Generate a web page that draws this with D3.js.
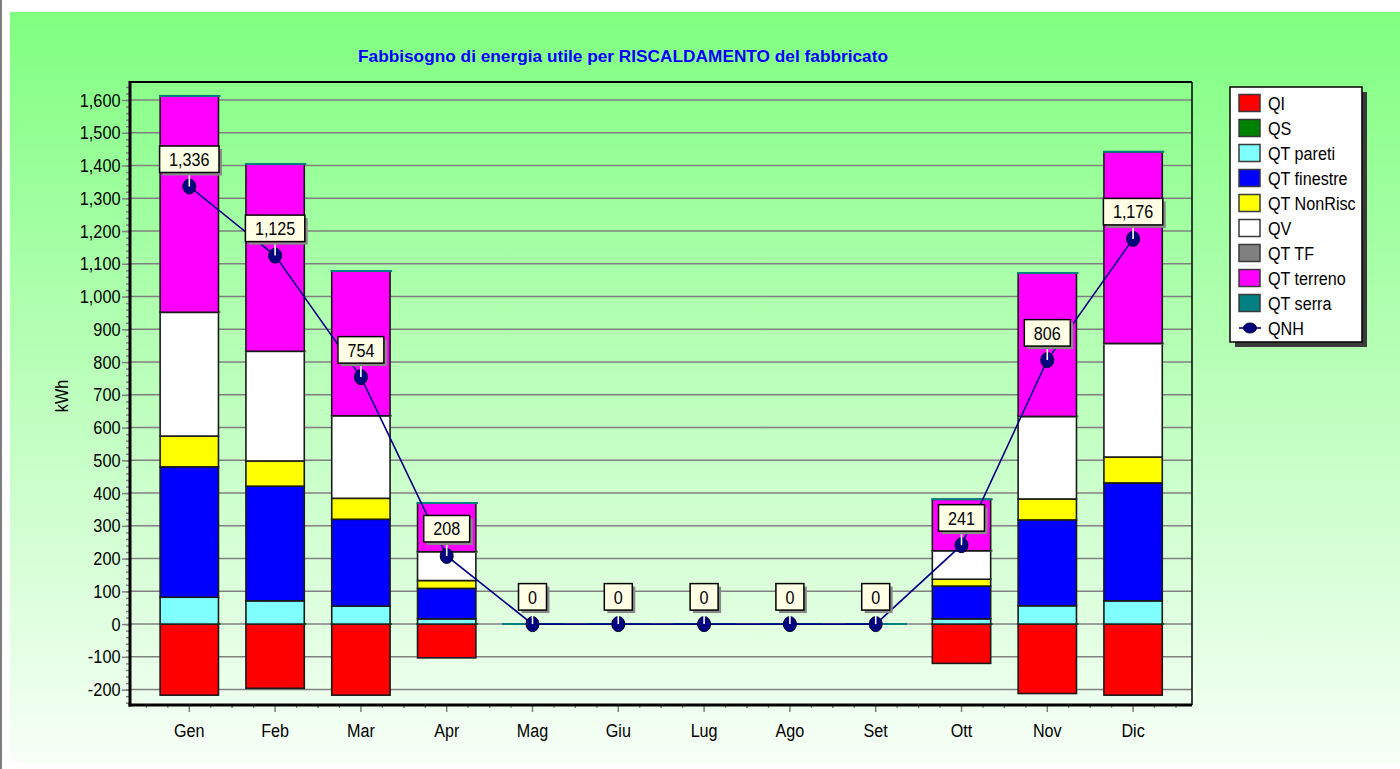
<!DOCTYPE html>
<html>
<head>
<meta charset="utf-8">
<script src="https://cdn.jsdelivr.net/npm/d3@7"></script>
<style>
  html, body { margin: 0; padding: 0; background: #fff; }
  svg { display: block; }
  text { font-family: "Liberation Sans", Arial, sans-serif; }
</style>
</head>
<body>
<svg id="chart" width="1400" height="769"></svg>
<script>
// Monthly heating energy balance of the building (kWh)
const months = ["Gen","Feb","Mar","Apr","Mag","Giu","Lug","Ago","Set","Ott","Nov","Dic"];
const seriesNames = ["QI","QS","QT pareti","QT finestre","QT NonRisc","QV","QT TF","QT terreno","QT serra"];
const seriesColors = ["#ff0000","#008000","#80ffff","#0000ff","#ffff00","#ffffff","#808080","#ff00ff","#008080"];

const qI        = [-217,-196,-217,-103,0,0,0,0,0,-120,-212,-217];
const qS        = [0,0,0,0,0,0,0,0,0,0,0,0];
const qtPareti  = [82,71,55,16,0,0,0,0,0,16,56,71];
const qtFinestre= [398,350,265,93,0,0,0,0,0,100,262,360];
const qtNonRisc = [94,77,64,24,0,0,0,0,0,21,64,79];
const qV        = [378,335,252,88,0,0,0,0,0,87,252,347];
const qtTF      = [0,0,0,0,0,0,0,0,0,0,0,0];
const qtTerreno = [660,572,442,149,0,0,0,0,0,157,438,585];
const qtSerra   = [0,0,0,0,0,0,0,0,0,0,0,0];
const qNH       = [1336,1125,754,208,0,0,0,0,0,241,806,1176];

const yTickValues = [-200,-100,0,100,200,300,400,500,600,700,800,900,1000,1100,1200,1300,1400,1500,1600];
const titleText = "Fabbisogno di energia utile per RISCALDAMENTO del fabbricato";
const yAxisTitle = "kWh";

const seriesValues = [qI,qS,qtPareti,qtFinestre,qtNonRisc,qV,qtTF,qtTerreno,qtSerra];
const rows = months.map((m, j) => {
  const r = { month: m };
  seriesNames.forEach((k, i) => r[k] = seriesValues[i][j]);
  return r;
});

const svg = d3.select("#chart");
const plot = { left: 130, right: 1192, top: 82, bottom: 705 };
const FS = 19;    // lettering size
const SX = 0.85;  // horizontal condensing of chart lettering

// background
const defs = svg.append("defs");
const grad = defs.append("linearGradient").attr("id", "bg")
  .attr("gradientUnits", "userSpaceOnUse").attr("x1", 0).attr("y1", 12).attr("x2", 0).attr("y2", 762);
grad.append("stop").attr("offset", 0).attr("stop-color", "#80ff80");
grad.append("stop").attr("offset", 1).attr("stop-color", "#f7fff7");
svg.append("rect").attr("x", 10).attr("y", 12).attr("width", 1390).attr("height", 750).attr("fill", "url(#bg)");
svg.append("rect").attr("x", 0).attr("y", 0).attr("width", 2).attr("height", 769).attr("fill", "#7f7f7f");

function putText(parent, x, y, str, o = {}) {
  return parent.append("text")
    .attr("transform", `translate(${x},${y}) rotate(${o.rotate || 0}) scale(${o.sx == null ? SX : o.sx},1)`)
    .attr("text-anchor", o.anchor || "start")
    .attr("font-size", o.size || FS)
    .attr("font-weight", o.weight || "normal")
    .attr("fill", o.fill || "#000")
    .text(str);
}

// scales
const x = d3.scaleBand().domain(months).range([146.4, 1176]).paddingInner(0.32).paddingOuter(0.16);
const y = d3.scaleLinear().domain([-247, 1655]).range([plot.bottom, plot.top]);

// grid
svg.append("g").selectAll("line").data(yTickValues).join("line")
  .attr("x1", plot.left).attr("x2", plot.right)
  .attr("y1", d => y(d)).attr("y2", d => y(d))
  .attr("stroke", "#808080").attr("stroke-width", 1.5);

// y axis: minor + major ticks
const minorTicks = d3.range(-240, 1641, 20);
const yMinor = svg.append("g").attr("transform", `translate(${plot.left},0)`)
  .call(d3.axisLeft(y).tickValues(minorTicks).tickSize(4).tickFormat(""));
yMinor.select(".domain").remove();
yMinor.selectAll("line").attr("stroke", "#808080").attr("stroke-width", 1.5);

const yAxis = svg.append("g").attr("transform", `translate(${plot.left},0)`)
  .call(d3.axisLeft(y).tickValues(yTickValues).tickSize(8).tickPadding(3)
    .tickFormat(d => d3.format(",")(d).replace("\u2212", "-")));
yAxis.select(".domain").remove();
yAxis.selectAll("line").attr("stroke", "#808080").attr("stroke-width", 1.5);
yAxis.selectAll("text").attr("font-size", FS).attr("fill", "#000")
  .attr("font-family", "Liberation Sans, Arial, sans-serif")
  .attr("transform", `scale(0.86,1)`);

// x axis ticks
const xTicks = svg.append("g");
months.forEach((m, i) => {
  const c = x(m) + x.bandwidth() / 2;
  const step = x.step();
  xTicks.append("line").attr("x1", c).attr("x2", c).attr("y1", plot.bottom).attr("y2", plot.bottom + 7)
    .attr("stroke", "#808080").attr("stroke-width", 1.5);
  [-0.5, -0.25, 0.25, 0.5].forEach(f => {
    const xx = c + f * step;
    xTicks.append("line").attr("x1", xx).attr("x2", xx).attr("y1", plot.bottom).attr("y2", plot.bottom + 3)
      .attr("stroke", "#808080").attr("stroke-width", 1.2);
  });
  putText(svg, c, 737, m, { anchor: "middle" });
});

// stacked bars: positives grow upward, negatives downward, zeros sit on the current top
function offsetSigned(series, order) {
  const n = series[0].length;
  for (let j = 0; j < n; ++j) {
    let pos = 0, neg = 0;
    for (const i of order) {
      const d = series[i][j];
      const v = d[1] - d[0];
      if (v < 0) { d[1] = neg; neg += v; d[0] = neg; }
      else { d[0] = pos; pos += v; d[1] = pos; }
    }
  }
}
const stacked = d3.stack().keys(seriesNames).order(d3.stackOrderNone).offset(offsetSigned)(rows);

const bars = svg.append("g");
stacked.forEach((s, i) => {
  const color = seriesColors[i];
  s.forEach(d => {
    const m = d.data.month;
    const x0 = x(m), w = x.bandwidth();
    if (d[1] - d[0] === 0) {
      bars.append("line")
        .attr("x1", x0 - 1).attr("x2", x0 + w + 2)
        .attr("y1", y(d[1])).attr("y2", y(d[1]))
        .attr("stroke", color).attr("stroke-width", 2);
    } else {
      bars.append("rect")
        .attr("x", x0).attr("width", w)
        .attr("y", y(d[1])).attr("height", y(d[0]) - y(d[1]))
        .attr("fill", color).attr("stroke", "#1a1a1a").attr("stroke-width", 1.6);
    }
  });
});

// plot frame
svg.append("line").attr("x1", plot.left).attr("x2", plot.right).attr("y1", plot.top).attr("y2", plot.top)
  .attr("stroke", "#000").attr("stroke-width", 2);
svg.append("line").attr("x1", plot.right).attr("x2", plot.right).attr("y1", plot.top).attr("y2", plot.bottom)
  .attr("stroke", "#000").attr("stroke-width", 1.5);
svg.append("line").attr("x1", plot.left).attr("x2", plot.left).attr("y1", plot.top - 1).attr("y2", plot.bottom + 1.5)
  .attr("stroke", "#000").attr("stroke-width", 3);
svg.append("line").attr("x1", plot.left - 1.5).attr("x2", plot.right).attr("y1", plot.bottom).attr("y2", plot.bottom)
  .attr("stroke", "#000").attr("stroke-width", 3);

// QNH line with markers and value labels
const cx = m => x(m) + x.bandwidth() / 2;
const qnhPts = months.map((m, j) => ({ m, v: qNH[j] }));
svg.append("path").datum(qnhPts)
  .attr("d", d3.line().x(d => cx(d.m)).y(d => y(d.v)))
  .attr("fill", "none").attr("stroke", "#000080").attr("stroke-width", 1.6);

svg.append("g").selectAll("ellipse").data(qnhPts).join("ellipse")
  .attr("cx", d => cx(d.m)).attr("cy", d => y(d.v))
  .attr("rx", 6.5).attr("ry", 7.5)
  .attr("fill", "#000080").attr("stroke", "#000030").attr("stroke-width", 1);

const labels = svg.append("g");
qnhPts.forEach(d => {
  const g = labels.append("g").attr("transform", `translate(${cx(d.m)},${y(d.v)})`);
  g.append("line").attr("x1", 0).attr("x2", 0).attr("y1", -14).attr("y2", 0)
    .attr("stroke", "#fff").attr("stroke-width", 1.6);
  const shadow = g.append("rect");
  const box = g.append("rect");
  const t = putText(g, 0, -20.5, d3.format(",")(d.v), { anchor: "middle" });
  const w = t.node().getComputedTextLength() * SX + 19;
  shadow.attr("x", -w / 2 + 3).attr("y", -40.5 + 3).attr("width", w).attr("height", 26.5).attr("fill", "#8a8a8a");
  box.attr("x", -w / 2).attr("y", -40.5).attr("width", w).attr("height", 26.5)
    .attr("fill", "#ffffe6").attr("stroke", "#000").attr("stroke-width", 1.5);
});

// title and axis title
svg.append("text").attr("x", 358).attr("y", 62)
  .attr("font-size", 16.5).attr("font-weight", "bold").attr("fill", "#0000ff")
  .attr("textLength", 530).attr("lengthAdjust", "spacingAndGlyphs")
  .text(titleText);
putText(svg, 68, 396, yAxisTitle, { anchor: "middle", rotate: -90 });

// legend
const lg = svg.append("g");
lg.append("rect").attr("x", 1235).attr("y", 92).attr("width", 132).attr("height", 255).attr("fill", "#3a3a3a");
lg.append("rect").attr("x", 1230).attr("y", 87).attr("width", 132).attr("height", 255)
  .attr("fill", "#fff").attr("stroke", "#000").attr("stroke-width", 1.5);
seriesNames.forEach((k, i) => {
  const cy = 103 + 25 * i;
  lg.append("rect").attr("x", 1239).attr("y", cy - 8.5).attr("width", 21).attr("height", 17)
    .attr("fill", seriesColors[i]).attr("stroke", "#3a3a3a").attr("stroke-width", 1.5);
  putText(lg, 1268, cy + 7, k);
});
{
  const cy = 103 + 25 * seriesNames.length;
  lg.append("line").attr("x1", 1239).attr("x2", 1261).attr("y1", cy).attr("y2", cy)
    .attr("stroke", "#000080").attr("stroke-width", 1.6);
  lg.append("ellipse").attr("cx", 1250).attr("cy", cy).attr("rx", 6.5).attr("ry", 5)
    .attr("fill", "#000080").attr("stroke", "#000030");
  putText(lg, 1268, cy + 7, "QNH");
}
</script>
</body>
</html>
